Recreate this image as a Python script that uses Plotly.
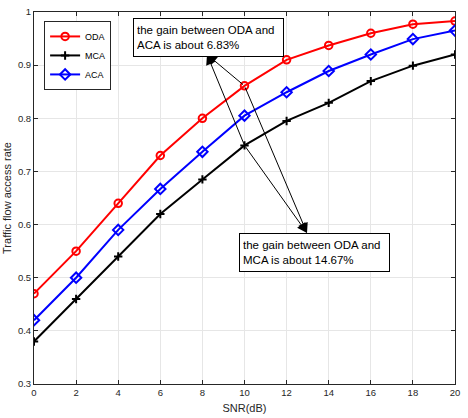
import plotly.graph_objects as go

snr = [0, 2, 4, 6, 8, 10, 12, 14, 16, 18, 20]
oda = [0.47, 0.55, 0.64, 0.73, 0.80, 0.861, 0.91, 0.937, 0.96, 0.977, 0.983]
mca = [0.38, 0.46, 0.54, 0.62, 0.685, 0.749, 0.795, 0.829, 0.87, 0.899, 0.92]
aca = [0.42, 0.50, 0.59, 0.667, 0.737, 0.805, 0.849, 0.889, 0.92, 0.949, 0.965]

x_ticks = [0, 2, 4, 6, 8, 10, 12, 14, 16, 18, 20]
y_ticks = [0.3, 0.4, 0.5, 0.6, 0.7, 0.8, 0.9, 1]
y_tick_text = ["0.3", "0.4", "0.5", "0.6", "0.7", "0.8", "0.9", "1"]

note1 = "the gain between ODA and<br>ACA is about 6.83%"
note2 = "the gain between ODA and<br>MCA is about 14.67%"
note1_pos = (4.69, 0.988)
note2_pos = (9.76, 0.584)
head1 = (8.22, 0.92)
head2 = (12.97, 0.584)
tails = [(10, 0.861), (10, 0.749)]

FONT = "Arial, Liberation Sans, sans-serif"
AX = "#262626"

fig = go.Figure()
fig.add_trace(go.Scatter(x=snr, y=oda, name="ODA", mode="lines+markers",
                         line=dict(color="#ff0000", width=2),
                         marker=dict(symbol="circle-open", size=7.5, color="#ff0000",
                                     line=dict(width=2, color="#ff0000"))))
fig.add_trace(go.Scatter(x=snr, y=mca, name="MCA", mode="lines+markers",
                         line=dict(color="#000000", width=2),
                         marker=dict(symbol="cross-thin", size=6, color="#000000",
                                     line=dict(width=2, color="#000000"))))
fig.add_trace(go.Scatter(x=snr, y=aca, name="ACA", mode="lines+markers",
                         line=dict(color="#0000ff", width=2),
                         marker=dict(symbol="diamond-open", size=8, color="#0000ff",
                                     line=dict(width=2, color="#0000ff"))))

annotations = []
for head in (head1, head2):
    for t in tails:
        annotations.append(dict(x=head[0], y=head[1], ax=t[0], ay=t[1],
                                xref="x", yref="y", axref="x", ayref="y",
                                text="", showarrow=True, arrowhead=2, arrowsize=2,
                                arrowwidth=1, arrowcolor="#000000", standoff=0,
                                startstandoff=0))
for txt, pos in ((note1, note1_pos), (note2, note2_pos)):
    annotations.append(dict(x=pos[0], y=pos[1], xref="x", yref="y", text=txt,
                            showarrow=False, xanchor="left", yanchor="top",
                            align="left", valign="middle",
                            font=dict(family=FONT, size=11.5, color="#000000"),
                            bordercolor="#000000", borderwidth=1, borderpad=3,
                            bgcolor="#ffffff", width=143, height=31))

fig.update_layout(
    width=468, height=418,
    margin=dict(l=33, r=13, t=6, b=32),
    paper_bgcolor="#ffffff", plot_bgcolor="#ffffff",
    font=dict(family=FONT, color=AX),
    showlegend=True,
    legend=dict(x=0.024, y=0.976, xanchor="left", yanchor="top",
                font=dict(family=FONT, size=9, color="#000000"),
                bordercolor=AX, borderwidth=1, bgcolor="#ffffff",
                itemwidth=30, tracegroupgap=0),
    annotations=annotations,
    xaxis=dict(range=[0, 20], tickvals=x_ticks, ticks="inside", ticklen=4,
               tickcolor=AX, showline=True, linecolor=AX, linewidth=1, mirror="ticks",
               showgrid=True, gridcolor="#e6e6e6", gridwidth=1, zeroline=False,
               tickfont=dict(size=9.5, color=AX),
               title=dict(text="SNR(dB)", font=dict(size=11, color=AX), standoff=6)),
    yaxis=dict(range=[0.3, 1], tickvals=y_ticks, ticktext=y_tick_text, ticks="inside",
               ticklen=4, tickcolor=AX, showline=True, linecolor=AX, linewidth=1,
               mirror="ticks", showgrid=True, gridcolor="#e6e6e6", gridwidth=1,
               zeroline=False, tickfont=dict(size=9.5, color=AX),
               title=dict(text="Traffic flow access rate", font=dict(size=11, color=AX),
                          standoff=4)),
)

fig.write_html("out.html")
